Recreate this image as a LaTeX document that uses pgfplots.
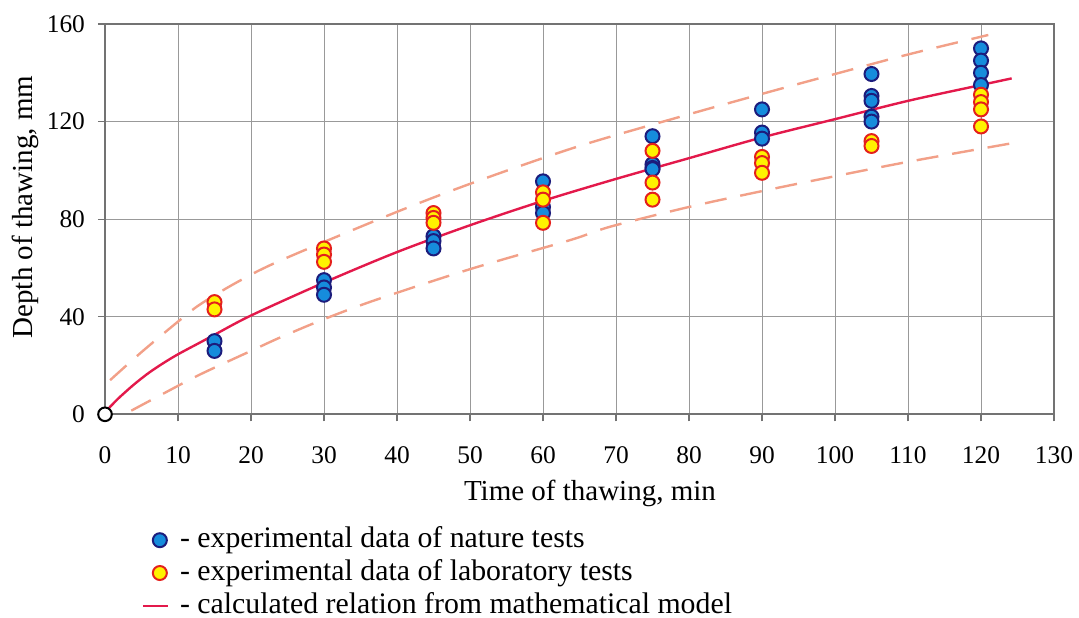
\documentclass[border=0pt]{standalone}
\usepackage{fontspec}
\setmainfont{Liberation Serif}
\usepackage{pgfplots}
\pgfplotsset{compat=1.18}
\definecolor{natfill}{HTML}{168CDC}
\definecolor{natdraw}{HTML}{1C1C7C}
\definecolor{labfill}{HTML}{FFF200}
\definecolor{labdraw}{HTML}{E4201C}
\definecolor{curve}{HTML}{E3194B}
\definecolor{band}{HTML}{F2A088}
\pgfplotsset{
  markimg/.style={legend image code/.code={\draw[##1, mark repeat=2, mark phase=2] plot coordinates {(0pt,0pt) (7pt,0pt) (14pt,0pt)};}},
  lineimg/.style={legend image code/.code={\draw[curve, line width=1.2pt] (-1.5pt,0pt) -- (11pt,0pt);}},
}
\begin{document}
\begin{tikzpicture}
\path[use as bounding box] (-52.5pt,-101.35pt) rectangle (487pt,207.15pt);
\begin{axis}[
  scale only axis,
  width=474.5pt, height=195.15pt,
  xmin=0, xmax=130, ymin=0, ymax=160,
  xtick={0,10,...,130}, ytick={0,40,...,160},
  grid=major,
  grid style={draw=black!40, line width=0.5pt},
  axis line style={draw=black!55, line width=1pt},
  tick align=outside, major tick length=3.5pt,
  tick style={draw=black!55, line width=0.6pt},
  xtick pos=bottom, ytick pos=left,
  /pgf/number format/assume math mode=true,
  ticklabel style={font=\fontsize{12.7}{15}\selectfont},
  xticklabel style={yshift=-9pt},
  yticklabel style={xshift=-3pt},
  xlabel={Time of thawing, min},
  ylabel={Depth of thawing, mm},
  label style={font=\fontsize{14.5}{17}\selectfont},
  xlabel style={at={(axis description cs:0.511,-0.2196)}, anchor=base},
  ylabel style={at={(axis description cs:-0.0759,0.531)}, anchor=base},
  clip=false,
  legend style={at={(axis description cs:0.0382,-0.2795)}, anchor=north west,
    draw=none, fill=none, inner sep=0pt,
    font=\fontsize{14.9}{17}\selectfont,
    nodes={inner sep=1pt, text height=10.9pt, text depth=3.5pt},
    /tikz/every odd column/.append style={column sep=4.5pt}},
  legend cell align=left,
]
\addplot[curve, line width=1.2pt, smooth, tension=0.5, forget plot] coordinates {
(0,0) (0.5,2.4) (1,4) (2,7) (4,12.3) (6,17) (8,21) (10,24.6) (13,29.4) (15,32.6) (20,40.5) (30,54) (40,66.5) (50,77.5)
(60,87.5) (70,96.5) (80,105) (90,113.5) (100,121) (110,128.5) (120,135) (124.2,137.7)};
\addplot[band, line width=1.2pt, smooth, tension=0.5, dash pattern=on 11pt off 7pt, forget plot] coordinates {
(0.7,14) (5,25.5) (10,38) (13,45) (18,54) (24,63) (40,83) (51.4,96) (65,110) (80,123) (92,133)
(100,139.5) (110,147.5) (121,155.5)};
\addplot[band, line width=1.2pt, smooth, tension=0.5, dash pattern=on 11pt off 7pt, forget plot] coordinates {
(3.6,1.5) (8,8.5) (13,16.3) (20,26) (24,31.5) (30,39) (37,46.8) (50,59.5) (63.7,71.4)
(69.2,76.9) (80,85) (90,91.5) (99,97) (110,103.5) (124,111)};
\addplot[only marks, mark=*, mark size=3.5pt, mark options={fill=natfill, draw=natdraw, line width=1pt}, markimg]
coordinates {
(15,30) (15,26)
(30,55) (30,52) (30,49)
(45,73) (45,71) (45,68)
(60,95.5) (60,85) (60,82.5)
(75,114) (75,102.5) (75,101) (75,100.5)
(90,125) (90,115.5) (90,113)
(105,139.5) (105,130.5) (105,128.5) (105,122) (105,120)
(120,150) (120,145) (120,140) (120,135)};
\addlegendentry{- experimental data of nature tests}
\addplot[only marks, mark=*, mark size=3.5pt, mark options={fill=labfill, draw=labdraw, line width=1pt}, markimg]
coordinates {
(15,46) (15,43)
(30,68) (30,65.5) (30,62.5)
(45,82.5) (45,80.5) (45,78.5)
(60,91) (60,88) (60,78.5)
(75,108) (75,95) (75,88)
(90,105.5) (90,103) (90,99)
(105,112) (105,110)
(120,131) (120,128) (120,125) (120,118)};
\addlegendentry{- experimental data of laboratory tests}
\addplot[curve, line width=1.2pt, draw=none, lineimg]
coordinates {(0,0)};
\addlegendentry{- calculated relation from mathematical model}
\addplot[only marks, mark=*, mark size=3.4pt, mark options={fill=white, draw=black, line width=1pt}, forget plot]
coordinates {(0,0)};
\end{axis}
\end{tikzpicture}
\end{document}
